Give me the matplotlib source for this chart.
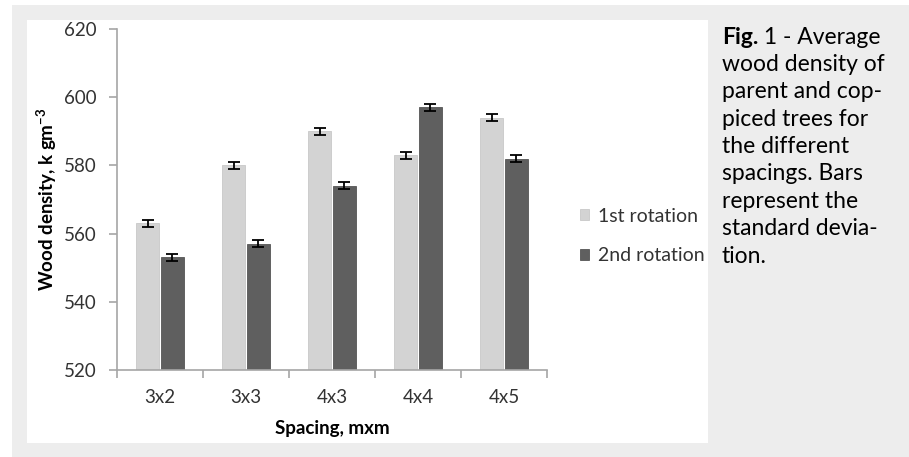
import matplotlib
matplotlib.use("Agg")
import matplotlib.pyplot as plt
from matplotlib.patches import Rectangle
import numpy as np

categories = ["3x2", "3x3", "4x3", "4x4", "4x5"]
first_rotation = [563, 580, 590, 583, 594]
second_rotation = [553, 557, 574, 597, 582]
first_err = [1.0, 1.0, 1.0, 1.0, 1.0]
second_err = [1.0, 1.0, 1.0, 1.0, 1.0]
y_ticks = [520, 540, 560, 580, 600, 620]
series_names = ["1st rotation", "2nd rotation"]
caption_lines = ["wood density of", "parent and cop-", "piced trees for",
                 "the different", "spacings. Bars", "represent the",
                 "standard devia-", "tion."]

font = "Lato"
plt.rcParams["mathtext.fontset"] = "custom"
plt.rcParams["mathtext.rm"] = font
plt.rcParams["mathtext.bf"] = font + ":bold"
plt.rcParams["axes.unicode_minus"] = False

W, H = 909, 457
fig = plt.figure(figsize=(W / 100, H / 100), dpi=100)
fig.patch.set_facecolor("white")

# background panels
fig.patches.append(Rectangle((12 / W, 0), (W - 12) / W, (H - 5) / H,
                             transform=fig.transFigure, facecolor="#ededed",
                             edgecolor="none", zorder=-10))
fig.patches.append(Rectangle((27 / W, (H - 443) / H), (708 - 27) / W, (443 - 20) / H,
                             transform=fig.transFigure, facecolor="white",
                             edgecolor="none", zorder=-9))

txtc = "#333333"
ax = fig.add_axes([117 / W, (H - 370) / H, 430 / W, 341 / H])
ax.set_facecolor("none")

x = np.arange(len(categories))
bw = 0.265
off = 0.145
ax.bar(x - off, first_rotation, bw, color="#d3d3d3", edgecolor="#c8c8c8",
       linewidth=0.6, label=series_names[0], zorder=2)
ax.bar(x + off, second_rotation, bw, color="#5f5f5f", edgecolor="#555555",
       linewidth=0.6, label=series_names[1], zorder=2)
ax.errorbar(x - off, first_rotation, yerr=first_err, fmt="none", ecolor="black",
            elinewidth=1.3, capsize=4, capthick=1.3, zorder=3)
ax.errorbar(x + off, second_rotation, yerr=second_err, fmt="none", ecolor="black",
            elinewidth=1.3, capsize=4, capthick=1.3, zorder=3)

ax.set_xlim(-0.5, len(categories) - 0.5)
ax.set_ylim(y_ticks[0], y_ticks[-1])
ax.set_yticks(y_ticks)
ax.set_yticklabels([str(v) for v in y_ticks], fontfamily=font, fontsize=13.5, color=txtc)
ax.set_xticks(x)
ax.set_xticklabels(categories, fontfamily=font, fontsize=13.5, color=txtc)
ax.set_xticks(np.arange(-0.5, len(categories), 1.0), minor=True)
ax.tick_params(axis="x", which="major", length=0, pad=14)
ax.tick_params(axis="x", which="minor", length=6, color="#a6a6a6", width=1.2)
ax.tick_params(axis="y", length=6, color="#a6a6a6", width=1.2, pad=9)
for s in ["top", "right"]:
    ax.spines[s].set_visible(False)
for s in ["left", "bottom"]:
    ax.spines[s].set_color("#a6a6a6")
    ax.spines[s].set_linewidth(1.2)

ax.set_xlabel("Spacing, mxm", fontfamily=font, fontsize=13.5, fontweight="bold",
              color="black", labelpad=10)
ax.set_ylabel(r"Wood density, k gm$^{\mathbf{-3}}$", fontfamily=font, fontsize=13.5,
              fontweight="bold", color="black", labelpad=3)

leg = ax.legend(loc="center left", bbox_to_anchor=(562 / W, (H - 236) / H),
                bbox_transform=fig.transFigure, frameon=False,
                prop={"family": font, "size": 14}, handlelength=0.5,
                handleheight=0.5, handletextpad=0.45, labelspacing=1.15)
for t in leg.get_texts():
    t.set_color(txtc)

# caption
cx = 722 / W
ys = [37 + 27.4 * i for i in range(9)]
fig.canvas.draw()
r = fig.canvas.get_renderer()
cfs = 16.5
t0 = fig.text(cx, (H - ys[0]) / H, "Fig.", fontfamily=font, fontweight="bold",
              fontsize=cfs, va="center", ha="left", color="black")
bb = t0.get_window_extent(renderer=r)
fig.text(bb.x1 / W, (H - ys[0]) / H, " 1 - Average", fontfamily=font,
         fontsize=cfs, va="center", ha="left", color="black")
for i, line in enumerate(caption_lines):
    fig.text(cx, (H - ys[i + 1]) / H, line, fontfamily=font, fontsize=cfs,
             va="center", ha="left", color="black")

fig.savefig("out.png", dpi=100)
